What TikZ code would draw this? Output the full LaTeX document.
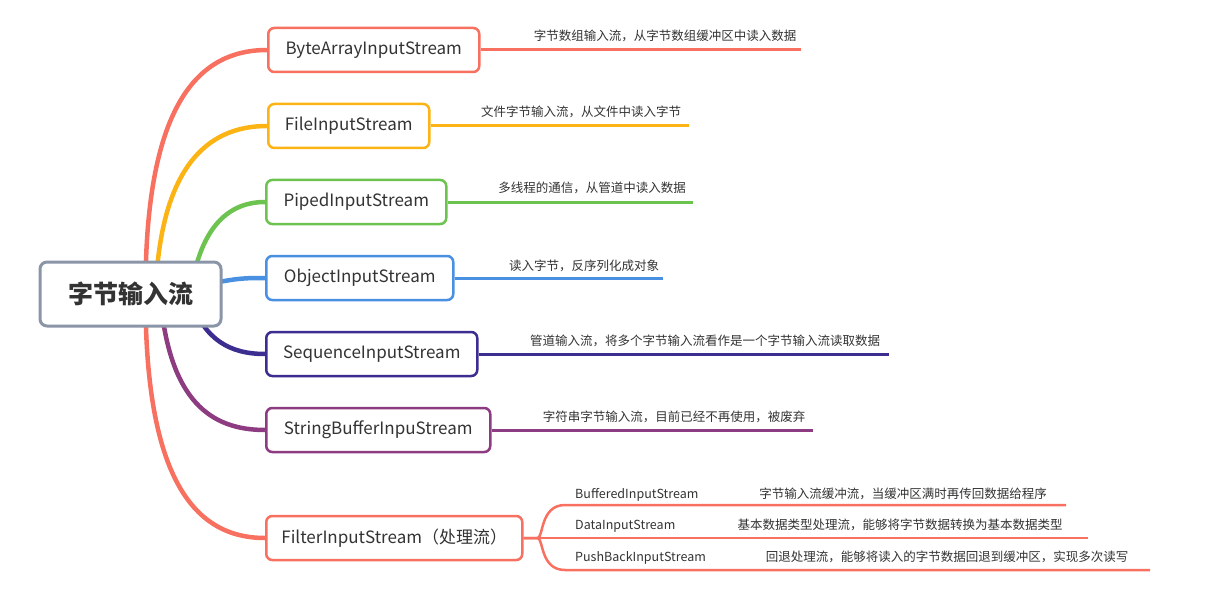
\documentclass[tikz,border=0pt]{standalone}
\usepackage{fontspec}
\setmainfont{Noto Sans CJK SC}
\usetikzlibrary{backgrounds,calc}
\definecolor{cRed}{RGB}{247,112,96}
\definecolor{cOrange}{RGB}{252,180,20}
\definecolor{cGreen}{RGB}{108,195,80}
\definecolor{cBlue}{RGB}{74,144,226}
\definecolor{cIndigo}{RGB}{60,45,145}
\definecolor{cPurple}{RGB}{142,60,130}
\definecolor{cRoot}{RGB}{138,149,168}
\definecolor{cText}{RGB}{51,51,51}
\tikzset{
  topic/.style={draw=#1, line width=2.5pt, rounded corners=6pt, fill=white, anchor=west,
    minimum height=44pt, inner sep=0pt, text=cText, font=\fontsize{17}{19}\selectfont},
  branch/.style={draw=#1, line width=4.5pt, line cap=round},
  leader/.style={draw=#1, line width=3pt},
  desc/.style={anchor=base, text=cText, font=\fontsize{12.5}{14}\selectfont, inner sep=0pt},
  sublabel/.style={anchor=base west, text=cText, font=\fontsize{12.5}{14}\selectfont, inner sep=0pt},
}
\begin{document}
\begin{tikzpicture}[x=1pt,y=-1pt]
\useasboundingbox (0,0) rectangle (1224,599);
% root
\node[draw=cRoot, line width=3pt, rounded corners=7pt, fill=white, minimum width=181pt, minimum height=64pt,
  inner sep=0pt, text=cText, font=\fontsize{25}{28}\selectfont\bfseries] (root) at (130.5,294) {字节输入流};
% topics
\node[topic=cRed, minimum width=211pt] (b1) at (267,50) {ByteArrayInputStream};
\node[topic=cOrange, minimum width=161pt] (b2) at (267,126) {FileInputStream};
\node[topic=cGreen, minimum width=180pt] (b3) at (265,202) {PipedInputStream};
\node[topic=cBlue, minimum width=187pt] (b4) at (265,278) {ObjectInputStream};
\node[topic=cIndigo, minimum width=211pt] (b5) at (265,354) {SequenceInputStream};
\node[topic=cPurple, minimum width=224pt] (b6) at (265,430) {StringBufferInpuStream};
\node[topic=cRed, minimum width=256pt] (b7) at (265,538) {FilterInputStream（处理流）};
% end points of leaders
\coordinate (e1) at (801,50);
\coordinate (e2) at (689,126);
\coordinate (e3) at (693,202);
\coordinate (e4) at (663,278);
\coordinate (e5) at (889,354);
\coordinate (e6) at (813,430);
\coordinate (s1) at (1066,505);
\coordinate (s2) at (1088,538);
\coordinate (s3) at (1150,570);
\begin{scope}[on background layer]
\draw[branch=cRed] ($(root.center)+(15,0)$) .. controls (145,110) and (195,50) .. (b1.west);
\draw[branch=cOrange] ($(root.center)+(25,0)$) .. controls (160,170) and (205,126) .. (b2.west);
\draw[branch=cGreen] ($(root.center)+(60,0)$) .. controls (200,225) and (230,202) .. (b3.west);
\draw[branch=cBlue] ($(root.center)+(70,-8)$) .. controls (235,278) and (245,278) .. (b4.west);
\draw[branch=cIndigo] ($(root.center)+(60,6)$) .. controls (205,340) and (230,354) .. (b5.west);
\draw[branch=cPurple] ($(root.center)+(30,6)$) .. controls (170,400) and (210,430) .. (b6.west);
\draw[branch=cRed] ($(root.center)+(15,0)$) .. controls (145,480) and (195,538) .. (b7.west);
\end{scope}
% leaders
\draw[leader=cRed] (b1.east) -- (e1);
\draw[leader=cOrange] (b2.east) -- (e2);
\draw[leader=cGreen] (b3.east) -- (e3);
\draw[leader=cBlue] (b4.east) -- (e4);
\draw[leader=cIndigo] (b5.east) -- (e5);
\draw[leader=cPurple] (b6.east) -- (e6);
% descriptions
\node[desc] (d1) at (665,41) {字节数组输入流，从字节数组缓冲区中读入数据};
\node[desc] (d2) at (581,117) {文件字节输入流，从文件中读入字节};
\node[desc] (d3) at (592,193) {多线程的通信，从管道中读入数据};
\node[desc] (d4) at (584,270) {读入字节，反序列化成对象};
\node[desc] (d5) at (705,345) {管道输入流，将多个字节输入流看作是一个字节输入流读取数据};
\node[desc] (d6) at (674,421) {字符串字节输入流，目前已经不再使用，被废弃};
% filter sub-branches
\draw[leader=cRed, line width=2.5pt] (b7.east) -- ++(14,0) .. controls ++(6,0) and (540,505) .. (565,505) -- (s1);
\draw[leader=cRed, line width=2.5pt] (b7.east) -- (s2);
\draw[leader=cRed, line width=2.5pt] (b7.east) -- ++(14,0) .. controls ++(6,0) and (540,570) .. (565,570) -- (s3);
\node[sublabel] (f1) at (575,498) {BufferedInputStream};
\node[sublabel] (f2) at (575,529) {DataInputStream};
\node[sublabel] (f3) at (575,561) {PushBackInputStream};
\node[desc] (g1) at (903,498) {字节输入流缓冲流，当缓冲区满时再传回数据给程序};
\node[desc] (g2) at (900,529) {基本数据类型处理流，能够将字节数据转换为基本数据类型};
\node[desc] (g3) at (947,561) {回退处理流，能够将读入的字节数据回退到缓冲区，实现多次读写};
\end{tikzpicture}
\end{document}
